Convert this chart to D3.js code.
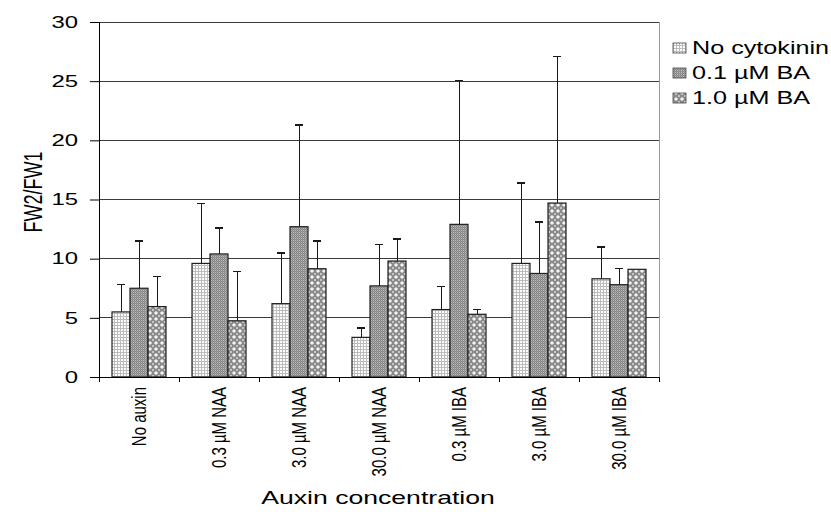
<!DOCTYPE html>
<html>
<head>
<meta charset="utf-8">
<script src="https://cdn.jsdelivr.net/npm/d3@7"></script>
<style>
  body { margin: 0; background: #fff; }
  text { font-family: "Liberation Sans", Arial, sans-serif; fill: #000; }
</style>
</head>
<body>
<div id="chart"></div>
<script>
var svgWidth = 831;
var svgHeight = 512;

// data
var categories = ["No auxin", "0.3 µM NAA", "3.0 µM NAA", "30.0 µM NAA", "0.3 µM IBA", "3.0 µM IBA", "30.0 µM IBA"];
var seriesNames = ["No cytokinin", "0.1 µM BA", "1.0 µM BA"];
var noCytokinin = [5.5, 9.6, 6.2, 3.35, 5.7, 9.6, 8.3];
var noCytokininErr = [2.3, 5.05, 4.3, 0.8, 1.95, 6.8, 2.7];
var ba01 = [7.5, 10.4, 12.7, 7.7, 12.9, 8.75, 7.8];
var ba01Err = [4.0, 2.2, 8.6, 3.5, 12.15, 4.35, 1.35];
var ba10 = [5.95, 4.75, 9.15, 9.8, 5.3, 14.7, 9.1];
var ba10Err = [2.55, 4.15, 2.35, 1.85, 0.4, 12.4, 0];
var yTicks = [0, 5, 10, 15, 20, 25, 30];

var margin = { top: 22, right: 172, bottom: 135, left: 99 };
var width = svgWidth - margin.left - margin.right;
var height = svgHeight - margin.top - margin.bottom;

var svg = d3.select("#chart").append("svg")
    .attr("width", svgWidth)
    .attr("height", svgHeight);

// fill patterns
var defs = svg.append("defs");

var p1 = defs.append("pattern").attr("id", "pat0")
    .attr("width", 3).attr("height", 3).attr("patternUnits", "userSpaceOnUse");
p1.append("rect").attr("width", 3).attr("height", 3).attr("fill", "#bcbcbc");
p1.append("rect").attr("x", 1).attr("y", 1).attr("width", 2).attr("height", 2).attr("fill", "#fcfcfc");

var p2 = defs.append("pattern").attr("id", "pat1")
    .attr("width", 2).attr("height", 2).attr("patternUnits", "userSpaceOnUse");
p2.append("rect").attr("width", 2).attr("height", 2).attr("fill", "#858585");
p2.append("rect").attr("width", 1).attr("height", 1).attr("fill", "#bdbdbd");
p2.append("rect").attr("x", 1).attr("y", 1).attr("width", 1).attr("height", 1).attr("fill", "#9a9a9a");

var p3 = defs.append("pattern").attr("id", "pat2")
    .attr("width", 6).attr("height", 6).attr("patternUnits", "userSpaceOnUse");
p3.append("rect").attr("width", 6).attr("height", 6).attr("fill", "#8a8a8a");
p3.append("polygon").attr("points", "3,0.9 5.1,3 3,5.1 0.9,3").attr("fill", "#f4f4f4");
p3.append("polygon").attr("points", "0,0 1.1,0 0,1.1").attr("fill", "#f4f4f4");
p3.append("polygon").attr("points", "6,6 4.9,6 6,4.9").attr("fill", "#f4f4f4");
p3.append("polygon").attr("points", "6,0 6,1.1 4.9,0").attr("fill", "#f4f4f4");
p3.append("polygon").attr("points", "0,6 0,4.9 1.1,6").attr("fill", "#f4f4f4");

// the original picture is stretched sideways, so text is too
function stretchText(parent, x, y, str, size, sx, anchor, rotate) {
    var g = parent.append("g")
        .attr("transform", `translate(${x},${y}) scale(${sx},1)` + (rotate ? ` rotate(${rotate})` : ""));
    return g.append("text")
        .attr("text-anchor", anchor)
        .attr("dy", "0.35em")
        .attr("font-size", size + "px")
        .text(str);
}

var chartGroup = svg.append("g")
    .attr("transform", `translate(${margin.left}, ${margin.top})`);

var xScale = d3.scaleBand()
    .domain(categories)
    .range([0, width])
    .paddingInner(0.325)
    .paddingOuter(0.1625);

var xSub = d3.scaleBand()
    .domain(seriesNames)
    .range([0, xScale.bandwidth()]);

var yScale = d3.scaleLinear()
    .domain([0, 30])
    .range([height, 0]);

// gridlines
chartGroup.append("g").selectAll("line")
    .data(yTicks.filter(d => d > 0))
    .enter().append("line")
    .attr("x1", 0)
    .attr("x2", width)
    .attr("y1", d => yScale(d))
    .attr("y2", d => yScale(d))
    .attr("stroke", "#3a3a3a")
    .attr("stroke-width", 1)
    .attr("shape-rendering", "crispEdges");

// plot area right edge
chartGroup.append("line")
    .attr("x1", width).attr("x2", width)
    .attr("y1", 0).attr("y2", height)
    .attr("stroke", "#9a9a9a")
    .attr("shape-rendering", "crispEdges");

var series = [
    { name: seriesNames[0], values: noCytokinin, errs: noCytokininErr },
    { name: seriesNames[1], values: ba01, errs: ba01Err },
    { name: seriesNames[2], values: ba10, errs: ba10Err }
];

var barData = [];
series.forEach(function (s, si) {
    categories.forEach(function (c, ci) {
        barData.push({ cat: c, series: s.name, idx: si, value: s.values[ci], err: s.errs[ci] });
    });
});

// error bars (upper only), drawn behind bars
var errGroup = chartGroup.append("g");
barData.filter(d => d.err > 0).forEach(function (d) {
    var cx = xScale(d.cat) + xSub(d.series) + xSub.bandwidth() / 2;
    errGroup.append("line")
        .attr("x1", cx).attr("x2", cx)
        .attr("y1", yScale(d.value)).attr("y2", yScale(d.value + d.err))
        .attr("stroke", "#1a1a1a")
        .attr("shape-rendering", "crispEdges");
    errGroup.append("line")
        .attr("x1", cx - 4).attr("x2", cx + 4)
        .attr("y1", yScale(d.value + d.err)).attr("y2", yScale(d.value + d.err))
        .attr("stroke", "#1a1a1a")
        .attr("stroke-width", 1.5)
        .attr("shape-rendering", "crispEdges");
});

chartGroup.append("g").selectAll("rect")
    .data(barData)
    .enter().append("rect")
    .attr("x", d => xScale(d.cat) + xSub(d.series))
    .attr("y", d => yScale(d.value))
    .attr("width", xSub.bandwidth())
    .attr("height", d => height - yScale(d.value))
    .attr("fill", d => `url(#pat${d.idx})`)
    .attr("stroke", "#1e1e1e")
    .attr("stroke-width", 1.2);

// y axis
var leftAxis = d3.axisLeft(yScale).tickValues(yTicks).tickSize(9).tickFormat("");
var yAxis = chartGroup.append("g").call(leftAxis);
yAxis.select(".domain").attr("stroke", "#000");
yAxis.selectAll(".tick line").attr("stroke", "#000");

yTicks.forEach(function (t) {
    stretchText(chartGroup, -21, yScale(t), String(t), 16.5, 1.45, "end");
});

// x axis
var step = xScale.step();
var boundaries = d3.range(categories.length + 1).map(i => i * step);
chartGroup.append("line")
    .attr("x1", 0).attr("x2", width)
    .attr("y1", height).attr("y2", height)
    .attr("stroke", "#000")
    .attr("shape-rendering", "crispEdges");
chartGroup.append("g").selectAll("line")
    .data(boundaries)
    .enter().append("line")
    .attr("x1", d => d).attr("x2", d => d)
    .attr("y1", height).attr("y2", height + 5)
    .attr("stroke", "#000")
    .attr("shape-rendering", "crispEdges");

categories.forEach(function (c) {
    stretchText(chartGroup, xScale(c) + xScale.bandwidth() / 2, height + 10, c, 15, 1.35, "end", -90);
});

// axis titles
stretchText(svg, margin.left + width / 2 - 1, 497, "Auxin concentration", 19, 1.4, "middle");
stretchText(svg, 33, 192, "FW2/FW1", 18, 1.4, "middle", -90);

// legend
var legend = svg.append("g").attr("transform", "translate(673, 48)");
seriesNames.forEach(function (name, i) {
    legend.append("rect")
        .attr("x", 0)
        .attr("y", i * 25 - 5)
        .attr("width", 13)
        .attr("height", 10)
        .attr("fill", `url(#pat${i})`)
        .attr("stroke", "#444")
        .attr("stroke-width", 0.8);
    stretchText(legend, 19, i * 25, name, 18, 1.4, "start");
});
</script>
</body>
</html>
